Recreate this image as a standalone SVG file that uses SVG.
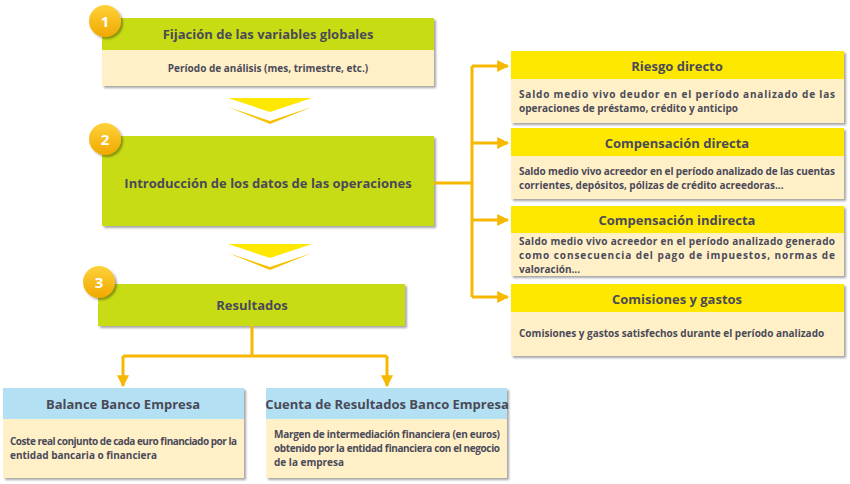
<svg xmlns="http://www.w3.org/2000/svg" width="850" height="484" viewBox="0 0 850 484">
<defs>
<filter id="sh" x="-5%" y="-10%" width="115%" height="130%"><feDropShadow dx="2" dy="2" stdDeviation="1.2" flood-color="#000" flood-opacity="0.35"/></filter>
<linearGradient id="circ" x1="0" y1="0" x2="0" y2="1"><stop offset="0" stop-color="#ffd23a"/><stop offset="1" stop-color="#f0a800"/></linearGradient>
<marker id="ar" viewBox="0 0 10 10" refX="9" refY="5" markerWidth="4" markerHeight="4" orient="auto"><path d="M0,0 L10,5 L0,10 z" fill="#f6b800"/></marker>
</defs>
<style>
.g{fill:#c8dc14}.y{fill:#ffe800}.b{fill:#b3e1f3}.c{fill:#fff0c8}
text{font-family:"Open Sans","Liberation Sans",sans-serif;font-weight:bold;fill:#4a4a58}
.h{font-size:13px}.t{font-size:10px}.n{fill:#fff;font-size:15px}
.ln{stroke:#f6b800;stroke-width:3;fill:none}
</style>
<rect width="850" height="484" fill="#fff"/>
<g id="n1">
<rect x="102" y="18" width="332" height="68" class="c" filter="url(#sh)"/>
<rect x="102" y="18" width="332" height="32" class="g"/>
<text x="268" y="39" text-anchor="middle" class="h">Fijación de las variables globales</text>
<text x="268" y="72" text-anchor="middle" class="t">Período de análisis (mes, trimestre, etc.)</text>
<circle cx="105" cy="21" r="16" fill="url(#circ)" filter="url(#sh)"/>
<text x="105" y="27" text-anchor="middle" class="n">1</text>
</g>
<g id="chev1">
<path d="M228,98 L312,98 L270,112 Z" fill="#ffe800"/>
<path d="M228,107 L270,121 L312,107 L270,124 Z" fill="#f6c000"/>
</g>
<g id="n2">
<rect x="102" y="136" width="332" height="90" class="g" filter="url(#sh)"/>
<text x="268" y="188" text-anchor="middle" class="h">Introducción de los datos de las operaciones</text>
<circle cx="105" cy="139" r="16" fill="url(#circ)" filter="url(#sh)"/>
<text x="105" y="145" text-anchor="middle" class="n">2</text>
</g>
<g id="chev2">
<path d="M228,244 L312,244 L270,258 Z" fill="#ffe800"/>
<path d="M228,253 L270,267 L312,253 L270,270 Z" fill="#f6c000"/>
</g>
<g id="n3">
<rect x="98" y="284" width="307" height="42" class="g" filter="url(#sh)"/>
<text x="252" y="310" text-anchor="middle" class="h">Resultados</text>
<circle cx="99" cy="282" r="16" fill="url(#circ)" filter="url(#sh)"/>
<text x="99" y="288" text-anchor="middle" class="n">3</text>
</g>
<g id="connectors">
<path class="ln" d="M434,183 H472 M472,66 V297"/>
<path class="ln" d="M472,66 H508" marker-end="url(#ar)"/>
<path class="ln" d="M472,143 H508" marker-end="url(#ar)"/>
<path class="ln" d="M472,220 H508" marker-end="url(#ar)"/>
<path class="ln" d="M472,297 H508" marker-end="url(#ar)"/>
<path class="ln" d="M252,326 V356 M123,356 H387"/>
<path class="ln" d="M123,356 V386" marker-end="url(#ar)"/>
<path class="ln" d="M387,356 V386" marker-end="url(#ar)"/>
</g>
<g id="r1">
<rect x="511" y="51" width="333" height="72" class="c" filter="url(#sh)"/>
<rect x="511" y="51" width="333" height="28" class="y"/>
<text x="677" y="71" text-anchor="middle" class="h">Riesgo directo</text>
<text x="519" y="98" class="t" textLength="316" lengthAdjust="spacing">Saldo medio vivo deudor en el período analizado de las</text>
<text x="519" y="112" class="t">operaciones de préstamo, crédito y anticipo</text>
</g>
<g id="r2">
<rect x="511" y="128" width="333" height="71" class="c" filter="url(#sh)"/>
<rect x="511" y="128" width="333" height="28" class="y"/>
<text x="677" y="148" text-anchor="middle" class="h">Compensación directa</text>
<text x="519" y="175" class="t" textLength="316" lengthAdjust="spacing">Saldo medio vivo acreedor en el período analizado de las cuentas</text>
<text x="519" y="189" class="t">corrientes, depósitos, pólizas de crédito acreedoras...</text>
</g>
<g id="r3">
<rect x="511" y="206" width="333" height="70" class="c" filter="url(#sh)"/>
<rect x="511" y="206" width="333" height="27" class="y"/>
<text x="677" y="225" text-anchor="middle" class="h">Compensación indirecta</text>
<text x="519" y="245" class="t" textLength="316" lengthAdjust="spacing">Saldo medio vivo acreedor en el período analizado generado</text>
<text x="519" y="259" class="t" textLength="316" lengthAdjust="spacing">como consecuencia del pago de impuestos, normas de</text>
<text x="519" y="273" class="t">valoración...</text>
</g>
<g id="r4">
<rect x="511" y="284" width="333" height="72" class="c" filter="url(#sh)"/>
<rect x="511" y="284" width="333" height="28" class="y"/>
<text x="677" y="304" text-anchor="middle" class="h">Comisiones y gastos</text>
<text x="519" y="337" class="t">Comisiones y gastos satisfechos durante el período analizado</text>
</g>
<g id="b1">
<rect x="3" y="388" width="241" height="90" class="c" filter="url(#sh)"/>
<rect x="3" y="388" width="241" height="31" class="b"/>
<text x="123" y="409" text-anchor="middle" class="h">Balance Banco Empresa</text>
<text x="10" y="445" class="t" textLength="227" lengthAdjust="spacing">Coste real conjunto de cada euro financiado por la</text>
<text x="10" y="459" class="t">entidad bancaria o financiera</text>
</g>
<g id="b2">
<rect x="266" y="388" width="241" height="90" class="c" filter="url(#sh)"/>
<rect x="266" y="388" width="241" height="31" class="b"/>
<text x="387" y="409" text-anchor="middle" class="h">Cuenta de Resultados Banco Empresa</text>
<text x="274" y="438" class="t" textLength="226" lengthAdjust="spacing">Margen de intermediación financiera (en euros)</text>
<text x="274" y="452" class="t" textLength="226" lengthAdjust="spacing">obtenido por la entidad financiera con el negocio</text>
<text x="274" y="466" class="t">de la empresa</text>
</g>
</svg>
